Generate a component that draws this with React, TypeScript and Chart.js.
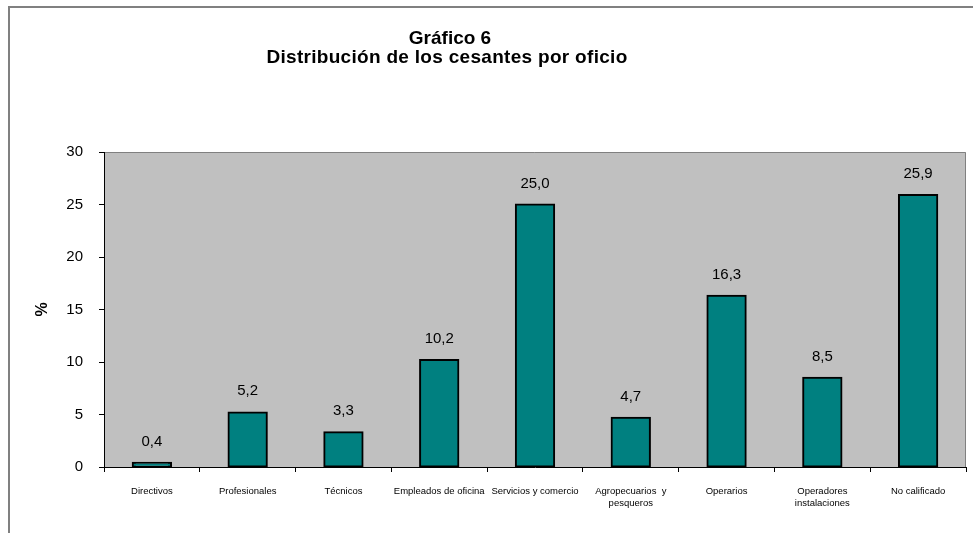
import React, { useEffect, useRef } from "react";
import { Chart, registerables } from "chart.js";

Chart.register(...registerables);

const titleLines = ["Gráfico 6", "Distribución de los cesantes por oficio"];
const categories: (string | string[])[] = [
  "Directivos",
  "Profesionales",
  "Técnicos",
  "Empleados de oficina",
  "Servicios y comercio",
  ["Agropecuarios  y", "pesqueros"],
  "Operarios",
  ["Operadores", "instalaciones"],
  "No calificado",
];
const values = [0.4, 5.2, 3.3, 10.2, 25.0, 4.7, 16.3, 8.5, 25.9];
const yAxisTitle = "%";
const yMin = 0;
const yMax = 30;
const yStep = 5;

const FONT = '"Liberation Sans", Arial, sans-serif';

export default function App() {
  const ref = useRef<HTMLCanvasElement | null>(null);

  useEffect(() => {
    document.body.style.margin = "0";
    const canvas = ref.current!;
    const framePlugin = {
      id: "frame",
      beforeDraw(chart: any) {
        const { ctx, chartArea } = chart;
        ctx.save();
        ctx.fillStyle = "#ffffff";
        ctx.fillRect(0, 0, chart.width, chart.height);
        ctx.strokeStyle = "#808080";
        ctx.lineWidth = 2;
        ctx.strokeRect(9, 7, 2000, 2000);
        ctx.fillStyle = "#C0C0C0";
        ctx.fillRect(chartArea.left, chartArea.top, chartArea.right - chartArea.left, chartArea.bottom - chartArea.top);
        ctx.strokeStyle = "#808080";
        ctx.lineWidth = 1;
        ctx.beginPath();
        ctx.moveTo(chartArea.left, chartArea.top + 0.5);
        ctx.lineTo(chartArea.right - 0.5, chartArea.top + 0.5);
        ctx.lineTo(chartArea.right - 0.5, chartArea.bottom);
        ctx.stroke();
        ctx.restore();
      },
      afterDraw(chart: any) {
        const { ctx } = chart;
        ctx.save();
        ctx.fillStyle = "#000";
        ctx.textAlign = "center";
        ctx.textBaseline = "alphabetic";
        ctx.font = `bold 19px ${FONT}`;
        ctx.fillText(titleLines[0], 450, 44);
        try { (ctx as any).letterSpacing = "0.3px"; } catch (e) {}
        ctx.fillText(titleLines[1], 447, 63);
        ctx.restore();
      },
      afterDatasetsDraw(chart: any) {
        const { ctx } = chart;
        const meta = chart.getDatasetMeta(0);
        ctx.save();
        ctx.fillStyle = "#000";
        ctx.textAlign = "center";
        ctx.textBaseline = "alphabetic";
        ctx.font = `15px ${FONT}`;
        meta.data.forEach((bar: any, i: number) => {
          const v = values[i];
          ctx.fillText(v.toFixed(1).replace(".", ","), bar.x, bar.y - 17);
        });
        ctx.restore();
      },
    };

    const chart = new Chart(canvas, {
      type: "bar",
      data: {
        labels: categories,
        datasets: [
          {
            data: values,
            backgroundColor: "#008080",
            borderColor: "#000000",
            borderWidth: 2,
            borderSkipped: false,
            inflateAmount: 1,
            barPercentage: 0.4,
            categoryPercentage: 1,
          },
        ],
      },
      options: {
        animation: false,
        responsive: false,
        devicePixelRatio: 1,
        layout: { padding: { top: 152, right: 7, bottom: 0, left: 0 } },
        plugins: {
          legend: { display: false },
          tooltip: { enabled: false },
          title: { display: false },
        },
        scales: {
          x: {
            grid: {
              offset: true,
              drawOnChartArea: false,
              drawTicks: true,
              tickLength: 5,
              color: "#000",
            },
            border: { display: true, color: "#000", width: 1 },
            ticks: {
              color: "#000",
              font: { family: FONT, size: 9.5, lineHeight: 1.3 },
              padding: 13,
              maxRotation: 0,
              autoSkip: false,
            },
            afterFit(scale: any) {
              scale.height = 66;
            },
          },
          y: {
            min: yMin,
            max: yMax,
            grid: {
              drawOnChartArea: false,
              drawTicks: true,
              tickLength: 5,
              color: "#000",
            },
            border: { display: true, color: "#000", width: 1 },
            ticks: {
              stepSize: yStep,
              color: "#000",
              font: { family: FONT, size: 15 },
              padding: 16,
            },
            title: {
              display: true,
              text: yAxisTitle,
              color: "#000",
              font: { family: FONT, size: 16, weight: "bold" },
              padding: { top: 33, bottom: 0 },
            },
            afterFit(scale: any) {
              scale.width = 104;
            },
          },
        },
      },
      plugins: [framePlugin],
    });
    return () => chart.destroy();
  }, []);

  return (
    <div style={{ width: 973, height: 533, position: "relative" }}>
      <canvas ref={ref} width={973} height={533} style={{ display: "block" }} />
    </div>
  );
}
